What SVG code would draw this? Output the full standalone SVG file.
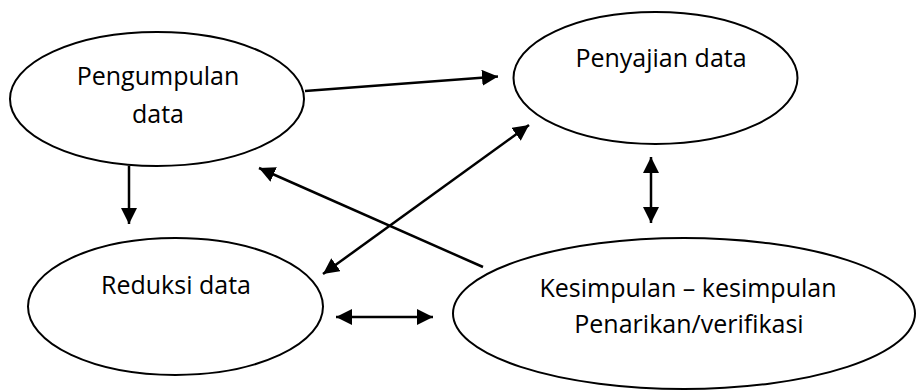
<svg xmlns="http://www.w3.org/2000/svg" width="916" height="390" viewBox="0 0 916 390">
<style>
.node{fill:#fff;stroke:#000;stroke-width:2}
.lbl{font-family:"Open Sans","Noto Sans","Liberation Sans",sans-serif;font-size:25px;fill:#000;text-anchor:middle}
.con{stroke:#000;stroke-width:2.5;fill:none}
</style>
<defs>
<marker id="ah" markerUnits="userSpaceOnUse" markerWidth="17" markerHeight="16" refX="16" refY="8" orient="auto-start-reverse" viewBox="0 0 17 16">
<path d="M0,0 L16,8 L0,16 z" fill="#000"/>
</marker>
</defs>
<rect width="916" height="390" fill="#fff"/>
<g id="n-pengumpulan">
<ellipse class="node" cx="157" cy="99" rx="147" ry="67"/>
<text class="lbl" x="158" y="85">Pengumpulan</text>
<text class="lbl" x="158" y="123">data</text>
</g>
<g id="n-penyajian">
<ellipse class="node" cx="655.5" cy="78" rx="142" ry="66"/>
<text class="lbl" x="661" y="67">Penyajian data</text>
</g>
<g id="n-reduksi">
<ellipse class="node" cx="175.5" cy="306.5" rx="147.5" ry="68.5"/>
<text class="lbl" x="176" y="294">Reduksi data</text>
</g>
<g id="n-kesimpulan">
<ellipse class="node" cx="684" cy="313.5" rx="231" ry="75.5"/>
<text class="lbl" x="688" y="297">Kesimpulan – kesimpulan</text>
<text class="lbl" x="689" y="333">Penarikan/verifikasi</text>
</g>
<g id="connectors">
<line class="con" x1="305" y1="91" x2="498" y2="76.5" marker-end="url(#ah)"/>
<line class="con" x1="129" y1="166" x2="129" y2="224" marker-end="url(#ah)"/>
<line class="con" x1="483" y1="267" x2="259" y2="168" marker-end="url(#ah)"/>
<line class="con" x1="323" y1="274" x2="529" y2="125" marker-start="url(#ah)" marker-end="url(#ah)"/>
<line class="con" x1="651" y1="157" x2="651" y2="223" marker-start="url(#ah)" marker-end="url(#ah)"/>
<line class="con" x1="336" y1="317" x2="433" y2="317" marker-start="url(#ah)" marker-end="url(#ah)"/>
</g>
</svg>
